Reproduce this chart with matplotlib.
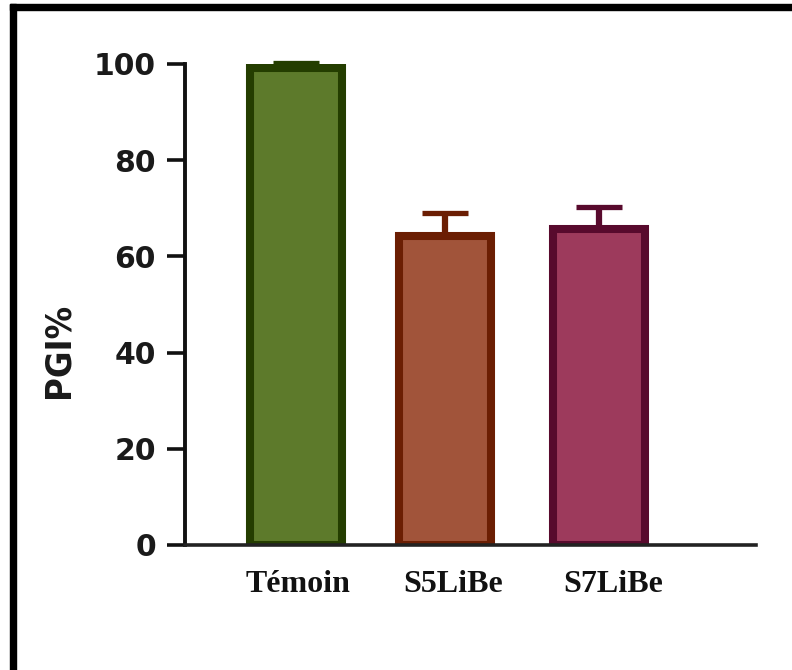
import matplotlib
matplotlib.use("Agg")
import matplotlib.pyplot as plt
from matplotlib import font_manager
from matplotlib.font_manager import FontProperties
from matplotlib.patches import Rectangle
import matplotlib.transforms as mtransforms

# Data
categories = ["Témoin", "S5LiBe", "S7LiBe"]
pgi_mean = [99.2, 64.2, 65.6]
pgi_err = [1.0, 4.8, 4.6]
y_ticks = [0, 20, 40, 60, 80, 100]

fill_colors = ["#5d7a2b", "#a1543a", "#9d3a5c"]
edge_colors = ["#243d00", "#6b1e03", "#580a2d"]

W, H, DPI = 792, 670, 100
fig = plt.figure(figsize=(W / DPI, H / DPI), dpi=DPI)
fig.patch.set_facecolor("white")

# Axes placed in pixel terms
left, right, bottom_px, top_px = 185, 756, 545, 64
ax = fig.add_axes([left / W, (H - bottom_px) / H, (right - left) / W, (bottom_px - top_px) / H])

positions = [0, 0.99, 2.0]
step_px = 151.5
x0_px = 295.5
ax.set_xlim((left - x0_px) / step_px, (right - x0_px) / step_px)
ax.set_ylim(0, 100)

bar_w = 92 / step_px
ax.bar(positions, pgi_mean, width=bar_w, color=fill_colors,
       edgecolor=edge_colors, linewidth=5.8, zorder=2)

for x, m, e, c in zip(positions, pgi_mean, pgi_err, edge_colors):
    ax.errorbar([x], [m], yerr=[[0], [e]], fmt="none", ecolor=c,
                elinewidth=4.5, capsize=16.5, capthick=3.8, zorder=1.5,
                clip_on=False)

# Spines
for s in ["top", "right"]:
    ax.spines[s].set_visible(False)
ax.spines["left"].set_linewidth(2.8)
ax.spines["bottom"].set_linewidth(2.6)
ax.spines["left"].set_color("#111111")
ax.spines["bottom"].set_color("#222222")
ax.spines["left"].set_zorder(3)
ax.spines["bottom"].set_zorder(3)

# Y ticks
ax.set_yticks(y_ticks)
ax.set_yticklabels([str(v) for v in y_ticks])
ax.tick_params(axis="y", length=13, width=2.6, pad=8, color="#111111")
for lab in ax.get_yticklabels():
    lab.set_fontfamily("DejaVu Sans")
    lab.set_fontweight("bold")
    lab.set_fontsize(21.5)
    lab.set_color("#1a1a1a")

# X tick labels
serif = "Liberation Serif"
ax.set_xticks(positions)
ax.set_xticklabels(categories)
ax.tick_params(axis="x", length=0, pad=18)
label_shift_px = [3, 8, 15]
for lab, dx in zip(ax.get_xticklabels(), label_shift_px):
    lab.set_fontfamily(serif)
    lab.set_fontweight("bold")
    lab.set_fontsize(23)
    lab.set_color("#111111")
    lab.set_transform(lab.get_transform() +
                      mtransforms.ScaledTranslation(dx / DPI, 0, fig.dpi_scale_trans))


# Y label: prefer a condensed / narrow sans face
def pick_narrow_font():
    narrow = ("condensed", "semi-condensed", "extra-condensed", "ultra-condensed")
    preferred = ["Liberation Sans Narrow", "DejaVu Sans", "Noto Sans",
                 "Open Sans", "Roboto", "Lato", "Inter"]
    entries = font_manager.fontManager.ttflist
    for fam in preferred:
        for want_w in (700, 600, 500, 400):
            for f in entries:
                if f.name != fam or f.style != "normal":
                    continue
                w = f.weight if isinstance(f.weight, int) else {"bold": 700, "normal": 400}.get(f.weight, 400)
                is_narrow = (fam == "Liberation Sans Narrow") or (str(f.stretch) in narrow) \
                    or (isinstance(f.stretch, int) and f.stretch < 500)
                if is_narrow and w == want_w:
                    return f.fname
    return None


narrow_file = pick_narrow_font()
if narrow_file:
    ylab_fp = FontProperties(fname=narrow_file, size=26)
else:
    ylab_fp = FontProperties(family="DejaVu Sans", weight="bold", size=24)
ax.set_ylabel("PGI%", fontproperties=ylab_fp, color="#1a1a1a",
              va="center", ha="center")
ax.yaxis.set_label_coords((59 - left) / (right - left),
                          (bottom_px - 350) / (bottom_px - top_px))

# Frame lines along the top and left of the figure
fig.patches.append(Rectangle((10 / W, 0), 6 / W, (H - 4) / H,
                             transform=fig.transFigure, color="black", zorder=10))
fig.patches.append(Rectangle((10 / W, (H - 10) / H), (W - 10) / W, 6 / H,
                             transform=fig.transFigure, color="black", zorder=10))

fig.savefig("out.png", dpi=DPI)
